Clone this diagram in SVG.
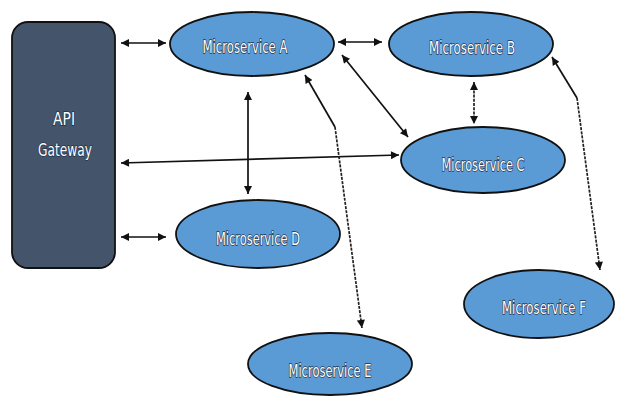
<svg xmlns="http://www.w3.org/2000/svg" width="617" height="397" viewBox="0 0 617 397">
<style>
.svc{fill:#5B9BD5;stroke:#111;stroke-width:1.8}
.gw{fill:#44546A;stroke:#111;stroke-width:1.8}
.lbl{font-family:"DejaVu Sans Condensed","Liberation Sans",sans-serif;font-size:18px;fill:#fff;stroke:#1d3350;stroke-width:1.4;paint-order:stroke;text-anchor:middle}
.c{fill:none;stroke:#111;stroke-width:1.7}
.d{fill:none;stroke:#222;stroke-width:1.7;stroke-dasharray:3 1.2}
</style>
<defs>
<marker id="ah" viewBox="0 0 10 10" refX="10" refY="5" markerWidth="9" markerHeight="8" markerUnits="userSpaceOnUse" orient="auto-start-reverse">
<path d="M0,0 L10,5 L0,10 z" fill="#111"/>
</marker>
</defs>
<g id="api-gateway">
<rect class="gw" x="12" y="22" width="103" height="246" rx="16"/>
<text class="lbl" x="64" y="125" textLength="22" lengthAdjust="spacingAndGlyphs">API</text>
<text class="lbl" x="65" y="156" textLength="54" lengthAdjust="spacingAndGlyphs">Gateway</text>
</g>
<g id="microservice-a">
<ellipse class="svc" cx="252" cy="44" rx="82" ry="32"/>
<text class="lbl" x="245" y="53" textLength="85" lengthAdjust="spacingAndGlyphs">Microservice A</text>
</g>
<g id="microservice-b">
<ellipse class="svc" cx="471" cy="44" rx="82" ry="32"/>
<text class="lbl" x="472" y="54" textLength="86" lengthAdjust="spacingAndGlyphs">Microservice B</text>
</g>
<g id="microservice-c">
<ellipse class="svc" cx="483" cy="160" rx="82" ry="33"/>
<text class="lbl" x="483" y="171" textLength="83" lengthAdjust="spacingAndGlyphs">Microservice C</text>
</g>
<g id="microservice-d">
<ellipse class="svc" cx="258" cy="234" rx="82" ry="34"/>
<text class="lbl" x="258" y="245" textLength="84" lengthAdjust="spacingAndGlyphs">Microservice D</text>
</g>
<g id="microservice-e">
<ellipse class="svc" cx="330" cy="364" rx="82" ry="31"/>
<text class="lbl" x="330" y="377" textLength="83" lengthAdjust="spacingAndGlyphs">Microservice E</text>
</g>
<g id="microservice-f">
<ellipse class="svc" cx="539" cy="304" rx="75" ry="34"/>
<text class="lbl" x="544" y="314" textLength="84" lengthAdjust="spacingAndGlyphs">Microservice F</text>
</g>
<g id="connectors">
<line class="c" x1="121" y1="43" x2="166" y2="43" marker-start="url(#ah)" marker-end="url(#ah)"/>
<line class="c" x1="121" y1="237" x2="166" y2="237" marker-start="url(#ah)" marker-end="url(#ah)"/>
<line class="c" x1="121" y1="163" x2="399" y2="155" marker-start="url(#ah)" marker-end="url(#ah)"/>
<line class="c" x1="248" y1="92" x2="248" y2="194" marker-start="url(#ah)" marker-end="url(#ah)"/>
<line class="c" x1="338" y1="42" x2="382" y2="42" marker-start="url(#ah)" marker-end="url(#ah)"/>
<line class="c" x1="342" y1="55" x2="408" y2="137" marker-start="url(#ah)" marker-end="url(#ah)"/>
<line class="d" x1="474" y1="82" x2="474" y2="124" marker-start="url(#ah)" marker-end="url(#ah)"/>
<polyline class="c" points="335,127 305,75" marker-end="url(#ah)"/>
<polyline class="d" points="335,127 362,328" marker-end="url(#ah)"/>
<polyline class="c" points="577,98 552,57" marker-end="url(#ah)"/>
<polyline class="d" points="577,98 600,270" marker-end="url(#ah)"/>
</g>
</svg>
